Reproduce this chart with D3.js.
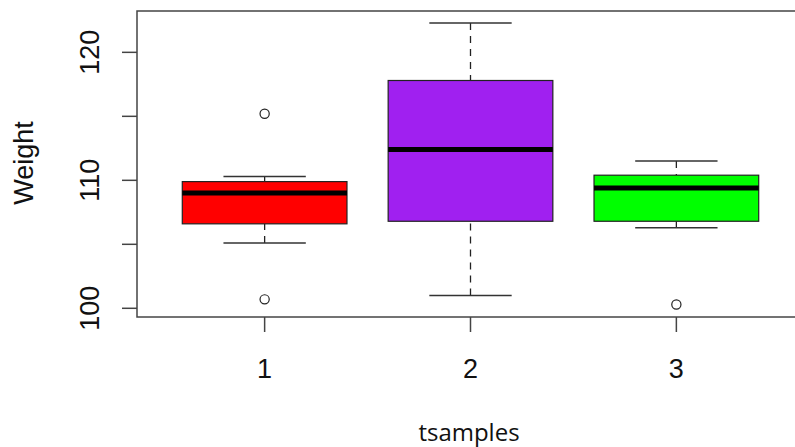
<!DOCTYPE html>
<html>
<head>
<meta charset="utf-8">
<script src="https://cdn.jsdelivr.net/npm/d3@7"></script>
<style>
  html, body { margin: 0; padding: 0; background: #fff; }
  svg { display: block; }
</style>
</head>
<body>
<svg id="chart" width="795" height="447"></svg>
<script>
// ---- data ----
const categories = [1, 2, 3];
const categoryLabels = ["1", "2", "3"];
const boxColors = ["#FF0000", "#A020F0", "#00FF00"];
const lowerWhisker = [105.1, 101.0, 106.3];
const q1 = [106.6, 106.8, 106.8];
const median = [109.0, 112.4, 109.4];
const q3 = [109.9, 117.8, 110.4];
const upperWhisker = [110.3, 122.3, 111.5];
const outliers = [[115.2, 100.7], [], [100.3]];
const yTicks = [100, 105, 110, 115, 120];
const yTickLabels = [100, 110, 120];
const xTitle = "tsamples";
const yTitle = "Weight";

// ---- layout ----
const svg = d3.select("#chart");
const plot = { left: 137, right: 804, top: 11, bottom: 317 };

const x = d3.scaleLinear().domain([0.38, 3.62]).range([plot.left, plot.right]);
const y = d3.scaleLinear().domain([99.32, 123.23]).range([plot.bottom, plot.top]);

const boxHalf = 0.4, capHalf = 0.2;

const boxes = categories.map((c, i) => ({
  c, color: boxColors[i], lw: lowerWhisker[i], q1: q1[i], med: median[i],
  q3: q3[i], uw: upperWhisker[i], out: outliers[i]
}));

const g = svg.append("g");

// whiskers (dashed, drawn from whisker end toward box)
boxes.forEach(b => {
  g.append("line")
    .attr("x1", x(b.c)).attr("x2", x(b.c))
    .attr("y1", y(b.uw)).attr("y2", y(b.q3))
    .attr("stroke", "#222").attr("stroke-width", 1.3)
    .attr("stroke-dasharray", "7,6");
  g.append("line")
    .attr("x1", x(b.c)).attr("x2", x(b.c))
    .attr("y1", y(b.lw)).attr("y2", y(b.q1))
    .attr("stroke", "#222").attr("stroke-width", 1.3)
    .attr("stroke-dasharray", "7,6");
  // caps
  [b.uw, b.lw].forEach(v => {
    g.append("line")
      .attr("x1", x(b.c - capHalf)).attr("x2", x(b.c + capHalf))
      .attr("y1", y(v)).attr("y2", y(v))
      .attr("stroke", "#333").attr("stroke-width", 1.5);
  });
  // box
  g.append("rect")
    .attr("x", x(b.c - boxHalf))
    .attr("y", y(b.q3))
    .attr("width", x(b.c + boxHalf) - x(b.c - boxHalf))
    .attr("height", y(b.q1) - y(b.q3))
    .attr("fill", b.color)
    .attr("stroke", "#222").attr("stroke-width", 1.2);
  // median
  g.append("line")
    .attr("x1", x(b.c - boxHalf)).attr("x2", x(b.c + boxHalf))
    .attr("y1", y(b.med)).attr("y2", y(b.med))
    .attr("stroke", "#000").attr("stroke-width", 5);
  // outliers
  b.out.forEach(v => {
    g.append("circle")
      .attr("cx", x(b.c)).attr("cy", y(v)).attr("r", 4.6)
      .attr("fill", "none").attr("stroke", "#222").attr("stroke-width", 1.2);
  });
});

// frame
svg.append("rect")
  .attr("x", plot.left).attr("y", plot.top)
  .attr("width", plot.right - plot.left).attr("height", plot.bottom - plot.top)
  .attr("fill", "none").attr("stroke", "#444").attr("stroke-width", 1.5);

// y axis ticks
const yAxisG = svg.append("g");
yTicks.forEach(t => {
  yAxisG.append("line")
    .attr("x1", plot.left - 15).attr("x2", plot.left)
    .attr("y1", y(t)).attr("y2", y(t))
    .attr("stroke", "#444").attr("stroke-width", 1.5);
});
yAxisG.append("line")
  .attr("x1", plot.left - 15).attr("x2", plot.left - 15)
  .attr("y1", y(yTicks[0])).attr("y2", y(yTicks[0])).attr("stroke", "none");
yTickLabels.forEach(t => {
  yAxisG.append("text")
    .attr("transform", `translate(99,${y(t)}) rotate(-90)`)
    .attr("text-anchor", "middle")
    .attr("font-family", "Liberation Sans, Arial, sans-serif")
    .attr("font-size", 27)
    .attr("fill", "#111")
    .text(t);
});

// x axis ticks
categories.forEach((c, i) => {
  svg.append("line")
    .attr("x1", x(c)).attr("x2", x(c))
    .attr("y1", plot.bottom).attr("y2", plot.bottom + 15)
    .attr("stroke", "#444").attr("stroke-width", 1.5);
  svg.append("text")
    .attr("x", x(c)).attr("y", 378)
    .attr("text-anchor", "middle")
    .attr("font-family", "Liberation Sans, Arial, sans-serif")
    .attr("font-size", 27)
    .attr("fill", "#111")
    .text(categoryLabels[i]);
});

// titles
svg.append("text")
  .attr("x", 469).attr("y", 441)
  .attr("text-anchor", "middle")
  .attr("font-family", "Open Sans, Noto Sans, sans-serif")
  .attr("font-size", 24)
  .attr("fill", "#111")
  .text(xTitle);

svg.append("text")
  .attr("transform", `translate(33,163) rotate(-90)`)
  .attr("text-anchor", "middle")
  .attr("font-family", "Liberation Sans, Arial, sans-serif")
  .attr("font-size", 27)
  .attr("fill", "#111")
  .text(yTitle);
</script>
</body>
</html>
